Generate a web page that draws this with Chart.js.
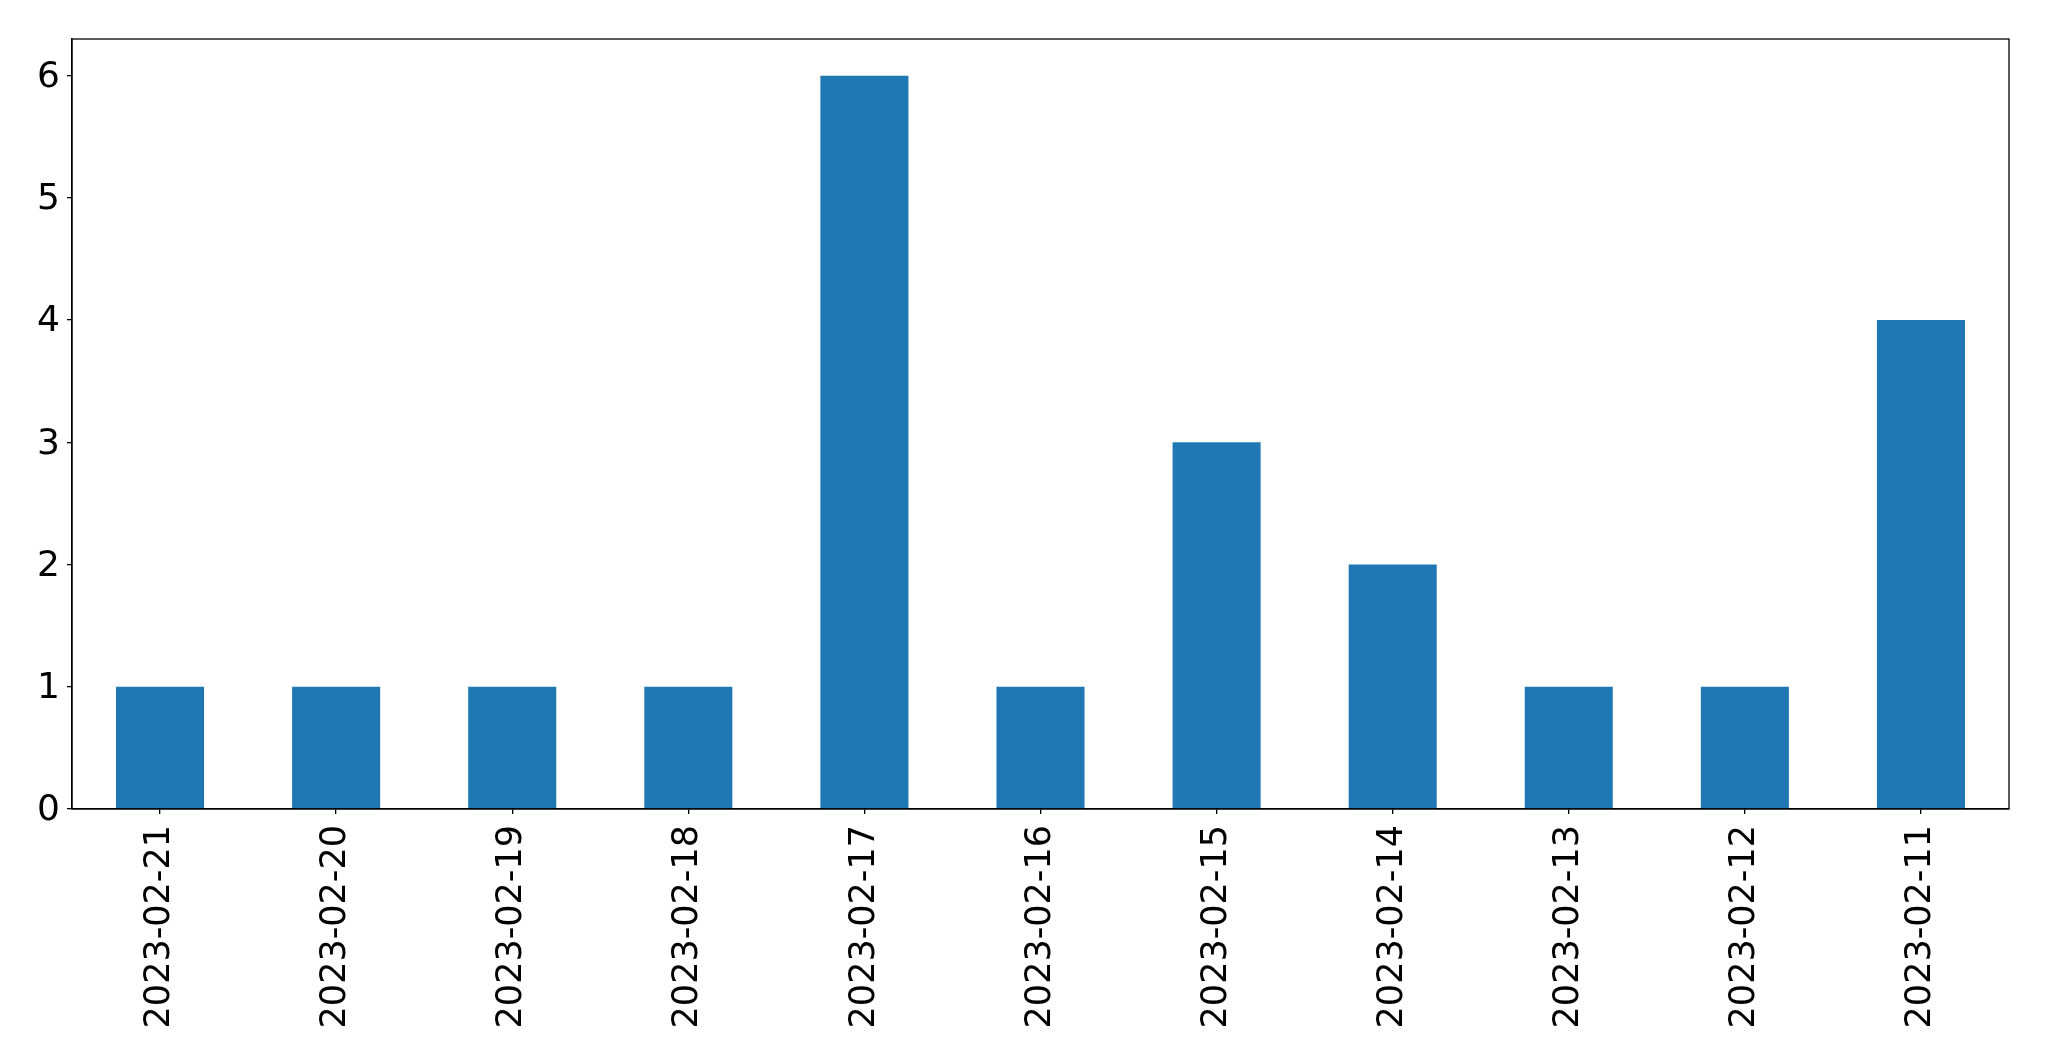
<!DOCTYPE html>
<html>
<head>
<meta charset="utf-8">
<script src="https://cdn.jsdelivr.net/npm/chart.js@4/dist/chart.umd.min.js"></script>
<style>
html,body{margin:0;padding:0;background:#fff;}
#wrap{width:2049px;height:1061px;position:relative;}
</style>
</head>
<body>
<div id="wrap"><canvas id="c" width="2049" height="1061"></canvas></div>
<script>
const categories = ["2023-02-21","2023-02-20","2023-02-19","2023-02-18","2023-02-17","2023-02-16","2023-02-15","2023-02-14","2023-02-13","2023-02-12","2023-02-11"];
const counts = [1,1,1,1,6,1,3,2,1,1,4];
const yTicks = [0,1,2,3,4,5,6];

const frame = {
  id: 'frame',
  afterDraw(chart) {
    const a = chart.chartArea, ctx = chart.ctx;
    ctx.save();
    ctx.strokeStyle = '#000';
    ctx.lineWidth = 1.3;
    ctx.strokeRect(a.left, a.top, a.right - a.left, a.bottom - a.top);
    ctx.restore();
  }
};

Chart.defaults.font.family = "'DejaVu Sans', sans-serif";
Chart.defaults.color = '#000';

new Chart(document.getElementById('c'), {
  type: 'bar',
  data: {
    labels: categories,
    datasets: [{
      data: counts,
      backgroundColor: '#1f77b4',
      borderWidth: 0,
      barPercentage: 0.5,
      categoryPercentage: 1.0
    }]
  },
  options: {
    responsive: false,
    animation: false,
    devicePixelRatio: 1,
    layout: { padding: { top: 39, right: 40, left: 0, bottom: 0 } },
    plugins: { legend: { display: false }, tooltip: { enabled: false } },
    scales: {
      x: {
        grid: { display: true, offset: false, drawOnChartArea: false, tickLength: 5, color: '#000', lineWidth: 1.3 },
        border: { display: true, color: '#000', width: 1.3 },
        ticks: { font: { size: 35 }, minRotation: 90, maxRotation: 90, padding: 11, autoSkip: false, color: '#000' },
        afterFit(s) { s.height = 252; }
      },
      y: {
        min: 0,
        max: 6.3,
        afterBuildTicks(s) { s.ticks = yTicks.map(v => ({ value: v })); },
        grid: { display: true, drawOnChartArea: false, tickLength: 5, color: '#000', lineWidth: 1.3 },
        border: { display: true, color: '#000', width: 1.3 },
        ticks: { font: { size: 36 }, padding: 7, labelOffset: 2, color: '#000' },
        afterFit(s) { s.width = 72; }
      }
    }
  },
  plugins: [frame]
});
</script>
</body>
</html>
